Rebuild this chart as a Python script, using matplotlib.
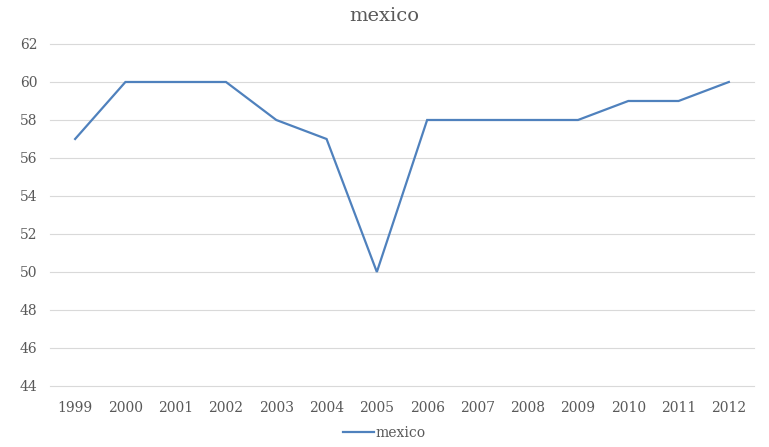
import matplotlib
matplotlib.use("Agg")
import matplotlib.pyplot as plt

years = ["1999", "2000", "2001", "2002", "2003", "2004", "2005",
         "2006", "2007", "2008", "2009", "2010", "2011", "2012"]
mexico = [57, 60, 60, 60, 58, 57, 50, 58, 58, 58, 58, 59, 59, 60]
y_ticks = [44, 46, 48, 50, 52, 54, 56, 58, 60, 62]

plt.rcParams['font.family'] = ['DejaVu Serif']
text_color = '#595959'

fig = plt.figure(figsize=(7.69, 4.47), dpi=100)
ax = fig.add_axes([0.065, 0.1365, 0.9155, 0.7651])

x = list(range(len(years)))
ax.plot(x, mexico, color='#4f81bd', linewidth=1.6, label='mexico',
        solid_joinstyle='miter', zorder=3)

ax.set_xlim(-0.5, len(years) - 0.5)
ax.set_ylim(44, 62)
ax.set_yticks(y_ticks)
ax.set_xticks(x)
ax.set_xticklabels(years)
# horizontal gridlines, including the bottom edge
for v in y_ticks:
    ax.axhline(v, color='#d9d9d9', linewidth=0.8, zorder=1, clip_on=False)
for s in ax.spines.values():
    s.set_visible(False)
ax.tick_params(length=0, labelsize=10, labelcolor=text_color)
ax.tick_params(axis='x', pad=11)
ax.tick_params(axis='y', pad=9)

fig.suptitle('mexico', x=0.5, y=0.985, fontsize=14, color=text_color)
fig.legend(loc='lower center', bbox_to_anchor=(0.5, -0.012), frameon=False,
           fontsize=10, labelcolor=text_color, handlelength=2.2,
           handletextpad=0.1)

fig.savefig('out.png', dpi=100)
